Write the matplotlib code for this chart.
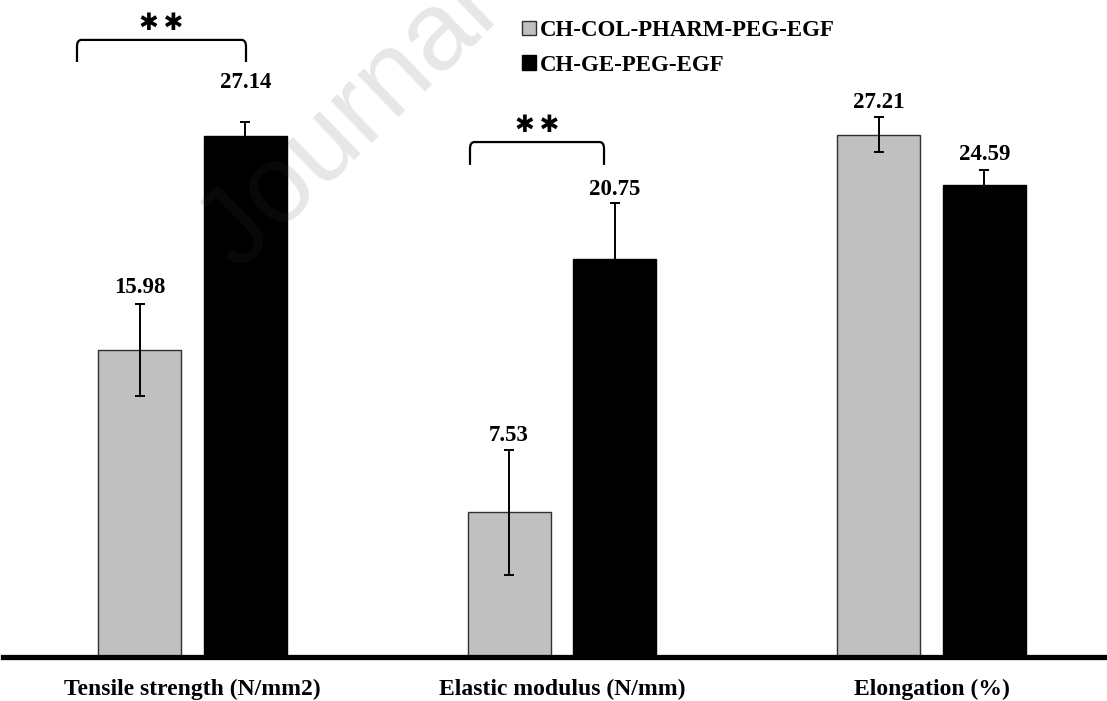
import matplotlib
matplotlib.use("Agg")
import matplotlib.pyplot as plt
import numpy as np
from matplotlib.path import Path
from matplotlib.patches import PathPatch, Patch

categories = ["Tensile strength (N/mm2)", "Elastic modulus (N/mm)", "Elongation (%)"]
series_names = ["CH-COL-PHARM-PEG-EGF", "CH-GE-PEG-EGF"]
values_col = [15.98, 7.53, 27.21]
values_ge = [27.14, 20.75, 24.59]
err_col = [2.4, 3.25, 0.9]
err_ge = [0.75, 2.9, 0.8]
value_labels_col = ["15.98", "7.53", "27.21"]
value_labels_ge = ["27.14", "20.75", "24.59"]

W, H = 1107, 701
fig = plt.figure(figsize=(W / 100, H / 100), dpi=100)
base_px = 657
ax = fig.add_axes([3 / W, (H - base_px) / H, (W - 3) / W, base_px / H])
ax.set_facecolor("none")

px_per_unit = 19.2
ax.set_ylim(0, base_px / px_per_unit)
ax.set_xlim(-(192.5 - 3) / 369.5, 2 + (W - 931.5) / 369.5)

serif = ["Liberation Serif", "DejaVu Serif"]
FS = 16.5

x = np.arange(len(categories))
off = 0.143
bw = 0.224
gray = "#c0c0c0"

ax.bar(x - off, values_col, bw, color=gray, edgecolor="#303030", linewidth=1.0,
       label=series_names[0], zorder=2)
ax.bar(x + off, values_ge, bw, color="black", edgecolor="black", linewidth=1.0,
       label=series_names[1], zorder=2)
ax.errorbar(x - off, values_col, yerr=err_col, fmt="none", ecolor="black",
            elinewidth=1.4, capsize=3.8, capthick=1.4, zorder=3)
ax.errorbar(x + off, values_ge, yerr=err_ge, fmt="none", ecolor="black",
            elinewidth=1.4, capsize=3.8, capthick=1.4, zorder=3)

# value labels
pads_col = [12, 10.5, 10.5]
pads_ge = [28, 9.5, 10.5]
for i in range(len(categories)):
    ax.annotate(value_labels_col[i], (x[i] - off, values_col[i] + err_col[i]),
                xytext=(0, pads_col[i]), textcoords="offset points",
                ha="center", va="center", fontsize=FS, fontweight="bold",
                family=serif, zorder=4)
    ax.annotate(value_labels_ge[i], (x[i] + off, values_ge[i] + err_ge[i]),
                xytext=(0, pads_ge[i]), textcoords="offset points",
                ha="center", va="center", fontsize=FS, fontweight="bold",
                family=serif, zorder=4)

# significance brackets
def bracket(x0, x1, ytop, ybot, star_y):
    r = 0.012
    ry = 0.35
    verts = [(x0, ybot), (x0, ytop - ry), (x0, ytop), (x0 + r, ytop),
             (x1 - r, ytop), (x1, ytop), (x1, ytop - ry), (x1, ybot)]
    codes = [Path.MOVETO, Path.LINETO, Path.CURVE3, Path.CURVE3,
             Path.LINETO, Path.CURVE3, Path.CURVE3, Path.LINETO]
    ax.add_patch(PathPatch(Path(verts, codes), fill=False, lw=1.6,
                           edgecolor="black", zorder=4, clip_on=False))
    ax.text((x0 + x1) / 2, star_y, "\u2731\u2009\u2731", ha="center", va="center",
            fontsize=17, fontweight="bold", family=["DejaVu Sans"], zorder=4,
            clip_on=False)

bracket(-0.3126, 0.1448, 32.14, 30.99, 33.0)
bracket(0.751, 1.1137, 26.82, 25.63, 27.7)

# axis styling
for s in ["top", "right", "left"]:
    ax.spines[s].set_visible(False)
ax.spines["bottom"].set_linewidth(3.8)
ax.spines["bottom"].set_color("black")
ax.set_yticks([])
ax.set_xticks(x)
ax.set_xticklabels(categories, fontsize=17, fontweight="bold", family=serif)
ax.tick_params(axis="x", length=0, pad=16)

# legend
handles = [Patch(facecolor=gray, edgecolor="#303030", linewidth=1.0),
           Patch(facecolor="black", edgecolor="black")]
leg = ax.legend(handles, series_names, loc="upper left",
                bbox_to_anchor=((522 - 3) / (W - 3), 1.0 - 20 / base_px),
                frameon=False, handlelength=0.6, handleheight=0.6,
                handletextpad=0.2, labelspacing=0.6, borderpad=0,
                borderaxespad=0,
                prop={"family": serif, "weight": "bold", "size": FS})

# faint watermark overlay
fig.text(238 / W, 1 - 272 / H, "Journal Pre-proof", rotation=44,
         rotation_mode="anchor", ha="left", va="baseline", fontsize=80,
         color=(0.25, 0.25, 0.25), alpha=0.13,
         family=["Liberation Sans", "DejaVu Sans"], zorder=10)

fig.savefig("out.png", dpi=100)
